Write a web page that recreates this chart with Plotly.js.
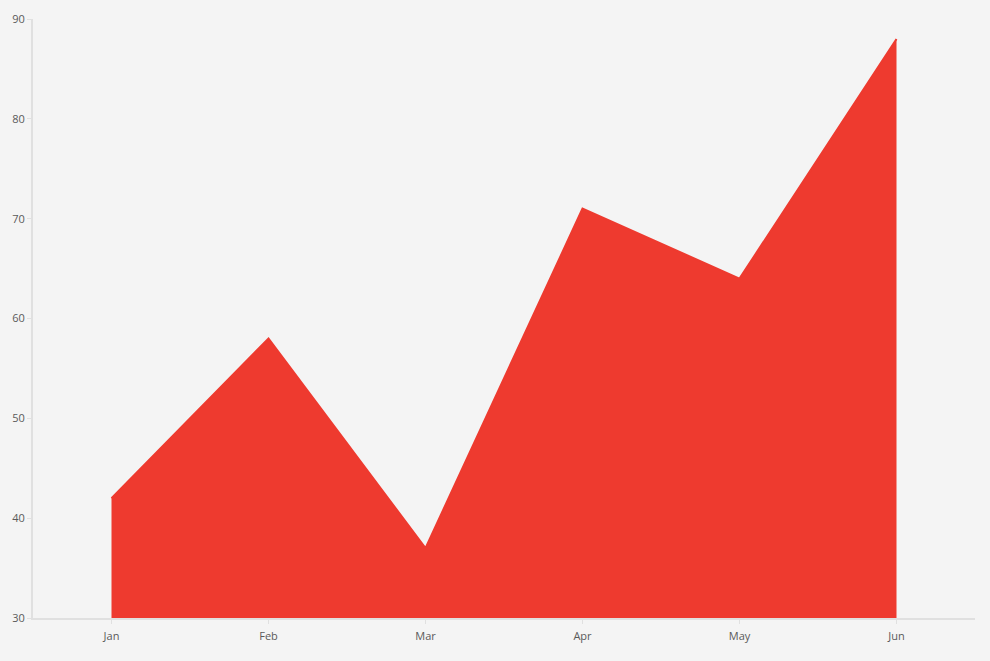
<!DOCTYPE html>
<html>
<head>
<meta charset="utf-8">
<script src="https://cdn.plot.ly/plotly-3.0.1.min.js"></script>
<style>
  html, body { margin: 0; padding: 0; background: #f4f4f4; }
  #chart { width: 990px; height: 661px; }
</style>
</head>
<body>
<div id="chart"></div>
<script>
const months = ["Jan", "Feb", "Mar", "Apr", "May", "Jun"];
const values = [42, 58, 37, 71, 64, 88];
const yTicks = [30, 40, 50, 60, 70, 80, 90];

const AREA_COLOR = "#ee3a2f";
const AXIS_COLOR = "#e0e0e0";

const trace = {
  type: "scatter",
  mode: "lines",
  x: months,
  y: values,
  fill: "tozeroy",
  fillcolor: AREA_COLOR,
  line: { color: AREA_COLOR, width: 2, shape: "linear" },
  hoverinfo: "x+y",
};

const layout = {
  width: 990,
  height: 661,
  paper_bgcolor: "#f4f4f4",
  plot_bgcolor: "#f4f4f4",
  margin: { t: 19, r: 15, b: 43, l: 33 },
  showlegend: false,
  font: { family: "Open Sans, Noto Sans, sans-serif", size: 11, color: "#5a5a5a" },
  xaxis: {
    type: "category",
    range: [-0.5, 5.5],
    showgrid: false,
    zeroline: false,
    showline: true,
    linecolor: AXIS_COLOR,
    linewidth: 2,
    ticks: "outside",
    ticklen: 4,
    tickcolor: AXIS_COLOR,
    ticklabelstandoff: 3,
    tickfont: { size: 11, color: "#5a5a5a" },
    fixedrange: true,
  },
  yaxis: {
    range: [30, 90],
    tickvals: yTicks,
    showgrid: false,
    zeroline: false,
    showline: true,
    linecolor: AXIS_COLOR,
    linewidth: 2,
    ticks: "outside",
    ticklen: 4,
    tickcolor: AXIS_COLOR,
    tickfont: { size: 11, color: "#5a5a5a" },
    fixedrange: true,
  },
};

Plotly.newPlot("chart", [trace], layout, { displayModeBar: false, staticPlot: true });
</script>
</body>
</html>
